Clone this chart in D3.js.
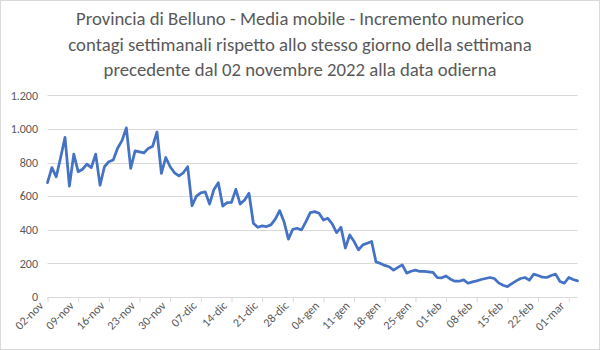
<!DOCTYPE html>
<html>
<head>
<meta charset="utf-8">
<script src="https://cdn.jsdelivr.net/npm/d3@7"></script>
<style>
  html, body { margin: 0; padding: 0; background: #fff; }
  svg { display: block; }
</style>
</head>
<body>
<svg id="chart" width="600" height="350"></svg>
<script>
// ---- data ----
const titleLines = [
  "Provincia di Belluno - Media mobile - Incremento numerico",
  "contagi settimanali rispetto allo stesso giorno della settimana",
  "precedente dal 02 novembre 2022 alla data odierna"
];
const startDate = "2022-11-02";
const values = [
  680, 770, 715, 830, 950, 660, 850, 745, 760, 790,
  770, 850, 665, 775, 805, 815, 885, 930, 1006, 765,
  869, 863, 857, 884, 897, 982, 735, 830, 775, 739,
  721, 739, 775, 543, 600, 620, 626, 553, 640, 680,
  541, 561, 563, 640, 553, 577, 617, 439, 415, 423,
  419, 429, 463, 514, 448, 344, 403, 409, 399, 448,
  502, 508, 498, 458, 468, 435, 383, 415, 291, 369,
  330, 280, 310, 320, 330, 208, 200, 188, 180, 160,
  176, 191, 142, 153, 160, 152, 153, 150, 146, 115,
  114, 125, 106, 94, 94, 102, 82, 90, 96, 104,
  110, 116, 110, 84, 70, 62, 80, 96, 110, 116,
  100, 136, 128, 118, 116, 128, 136, 92, 82, 116,
  104, 96
];
const xTickDates = ["2022-11-02","2022-11-09","2022-11-16","2022-11-23","2022-11-30",
  "2022-12-07","2022-12-14","2022-12-21","2022-12-28","2023-01-04","2023-01-11",
  "2023-01-18","2023-01-25","2023-02-01","2023-02-08","2023-02-15","2023-02-22","2023-03-01"];
const xTickLabels = ["02-nov","09-nov","16-nov","23-nov","30-nov","07-dic","14-dic",
  "21-dic","28-dic","04-gen","11-gen","18-gen","25-gen","01-feb","08-feb","15-feb","22-feb","01-mar"];
const yTicks = [0, 200, 400, 600, 800, 1000, 1200];
const yTickLabels = ["0", "200", "400", "600", "800", "1.000", "1.200"];

// ---- drawing ----
const parse = d3.utcParse("%Y-%m-%d");
const d0 = parse(startDate);
const series = values.map((v, i) => ({ date: d3.utcDay.offset(d0, i), value: v }));

const svg = d3.select("#chart");
const font = "Carlito, Calibri, 'Liberation Sans Narrow', 'Open Sans', sans-serif";
const textColor = "#595959";

svg.append("rect").attr("x", 0.5).attr("y", 0.5).attr("width", 599).attr("height", 349)
  .attr("fill", "#fff").attr("stroke", "#d9d9d9");

const x = d3.scaleUtc()
  .domain([series[0].date, series[series.length - 1].date])
  .range([47.5, 577.5]);
const y = d3.scaleLinear().domain([0, 1200]).range([297, 95.3]);

// gridlines
svg.append("g").selectAll("line").data(yTicks.filter(d => d > 0)).join("line")
  .attr("x1", 47.5).attr("x2", 577.5)
  .attr("y1", d => Math.round(y(d)) + 0.5).attr("y2", d => Math.round(y(d)) + 0.5)
  .attr("stroke", "#d9d9d9").attr("stroke-width", 1);

// y axis labels
const yAxis = d3.axisLeft(y).tickValues(yTicks)
  .tickFormat((d, i) => yTickLabels[i]).tickSize(0).tickPadding(0);
const gy = svg.append("g").attr("transform", "translate(38,0)").call(yAxis);
gy.select(".domain").remove();
gy.selectAll("text").attr("fill", textColor).style("font-family", font).style("font-size", "12px");

// x axis
const xTickVals = xTickDates.map(parse);
const xAxis = d3.axisBottom(x).tickValues(xTickVals)
  .tickFormat((d, i) => xTickLabels[i]).tickSizeInner(5).tickSizeOuter(0);
const gx = svg.append("g").attr("transform", "translate(0,297.5)").call(xAxis);
gx.select(".domain").attr("stroke", "#d9d9d9").attr("d", "M47.5,0H577.5");
gx.selectAll(".tick line").attr("stroke", "#d9d9d9");
gx.selectAll("text")
  .attr("fill", textColor).style("font-family", font).style("font-size", "12px")
  .attr("text-anchor", "end")
  .attr("transform", "translate(-7,6) rotate(-45)")
  .attr("dx", "0").attr("dy", "0.35em").attr("y", 0).attr("x", 0);

// line
const line = d3.line().x(d => x(d.date)).y(d => y(d.value));
svg.append("path").datum(series)
  .attr("d", line).attr("fill", "none")
  .attr("stroke", "#4472C4").attr("stroke-width", 2.75)
  .attr("stroke-linejoin", "round").attr("stroke-linecap", "round");

// title
const title = svg.append("g");
title.selectAll("text").data(titleLines).join("text")
  .attr("x", 300).attr("y", (d, i) => 25 + i * 25.5)
  .attr("text-anchor", "middle")
  .attr("fill", textColor)
  .style("font-family", font).style("font-size", "18.5px")
  .text(d => d);
// fit the first line to the reference width
const t0 = title.select("text").node();
const w0 = t0.getComputedTextLength();
const fs = 18.5 * 448 / w0;
title.selectAll("text").style("font-size", fs + "px");
</script>
</body>
</html>
